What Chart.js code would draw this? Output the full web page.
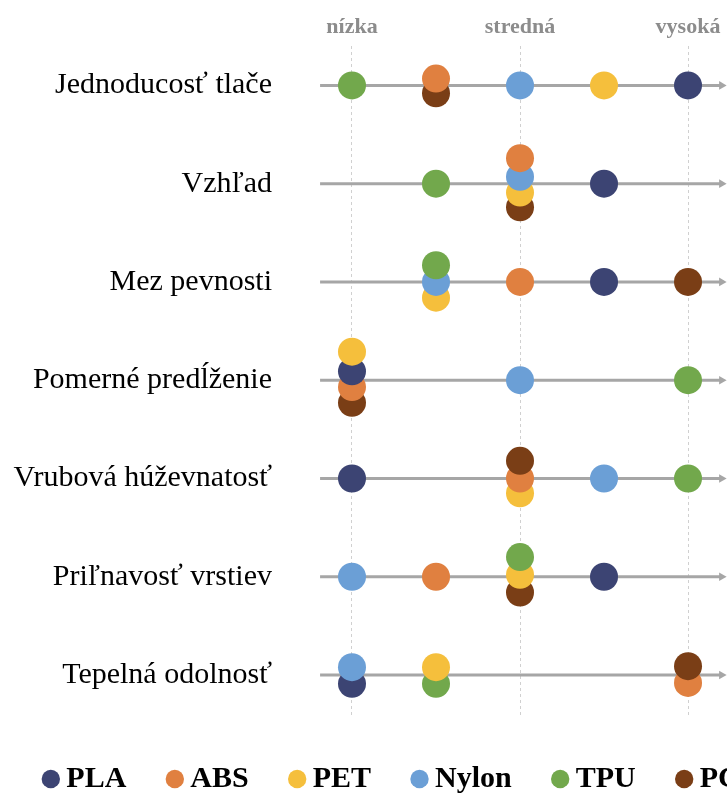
<!DOCTYPE html>
<html>
<head>
<meta charset="utf-8">
<script src="https://cdn.jsdelivr.net/npm/chart.js@4/dist/chart.umd.min.js"></script>
<style>
  html, body { margin: 0; padding: 0; background: #fff; overflow: hidden; }
  canvas { display: block; }
</style>
</head>
<body>
<canvas id="materialChart" width="790" height="793"></canvas>
<script>
// Properties (rows, top to bottom)
const categories = ['Jednoducosť tlače', 'Vzhľad', 'Mez pevnosti', 'Pomerné predĺženie',
                    'Vrubová húževnatosť', 'Priľnavosť vrstiev', 'Tepelná odolnosť'];
// level scale: 1 = nízka, 3 = stredná, 5 = vysoká
const levelLabels = ['nízka', '', 'stredná', '', 'vysoká'];

const materials = ['PLA', 'ABS', 'PET', 'Nylon', 'TPU', 'PC'];
const materialColors = ['#3c4473', '#e08040', '#f5bf3c', '#6b9fd6', '#72a84c', '#7a3e16'];

// level of each material per property
const plaLevels   = [5, 4, 4, 1, 1, 4, 1];
const absLevels   = [2, 3, 3, 1, 3, 2, 5];
const petLevels   = [4, 3, 2, 1, 3, 3, 2];
const nylonLevels = [3, 3, 2, 3, 4, 1, 1];
const tpuLevels   = [1, 2, 2, 5, 5, 3, 2];
const pcLevels    = [2, 3, 5, 1, 3, 3, 5];

// small vertical shift (in rows) where dots share a spot
const plaShift   = [0, 0, 0, -0.09, 0, 0, 0.09];
const absShift   = [-0.07, -0.26, 0, 0.07, 0, 0, 0.08];
const petShift   = [0, 0.09, 0.16, -0.29, 0.15, -0.02, -0.08];
const nylonShift = [0, -0.07, 0, 0, 0, 0, -0.08];
const tpuShift   = [0, 0, -0.17, 0, 0, -0.2, 0.09];
const pcShift    = [0.08, 0.24, 0, 0.23, -0.18, 0.16, -0.09];

const allLevels = [plaLevels, absLevels, petLevels, nylonLevels, tpuLevels, pcLevels];
const allShifts = [plaShift, absShift, petShift, nylonShift, tpuShift, pcShift];

// Build one list of dots, lower dots first so the upper one sits on top
let dots = [];
categories.forEach((cat, i) => {
    materials.forEach((m, k) => {
        dots.push({ x: allLevels[k][i], y: i + allShifts[k][i], color: materialColors[k] });
    });
});
dots.sort((a, b) => b.y - a.y);

const serif = '"Liberation Serif", "Times New Roman", serif';

// Arrow lines, one per row
const lineSets = categories.map((cat, i) => ({
    type: 'line',
    order: 2,
    data: [{ x: 0.62, y: i }, { x: 5.4, y: i }],
    borderColor: '#a6a6a6',
    borderWidth: 3,
    pointRadius: [0, 5],
    pointStyle: 'triangle',
    rotation: 90,
    pointBackgroundColor: '#a6a6a6',
    pointBorderWidth: 0,
    clip: false
}));

const ctx = document.getElementById('materialChart').getContext('2d');
new Chart(ctx, {
    type: 'scatter',
    data: {
        datasets: [{
            label: 'dots',
            order: 0,
            data: dots,
            pointRadius: 14,
            pointHoverRadius: 14,
            pointBorderWidth: 0,
            pointBackgroundColor: dots.map(d => d.color),
            clip: false
        }].concat(lineSets)
    },
    options: {
        responsive: false,
        animation: false,
        layout: { autoPadding: false, padding: { top: 8, bottom: -11 } },
        scales: {
            x: {
                type: 'linear',
                position: 'top',
                min: 0.262,
                max: 6.214,
                afterBuildTicks: axis => { axis.ticks = [1, 3, 5].map(v => ({ value: v })); },
                ticks: {
                    callback: v => levelLabels[v - 1],
                    color: '#8c8c8c',
                    font: { family: serif, size: 22, weight: 'bold' },
                    padding: 6,
                    maxRotation: 0
                },
                grid: {
                    color: '#d0d0d0',
                    lineWidth: 1,
                    drawTicks: false
                },
                border: { display: false, dash: [3, 3] }
            },
            y: {
                type: 'linear',
                reverse: true,
                min: -0.397,
                max: 6.417,
                afterBuildTicks: axis => { axis.ticks = categories.map((c, i) => ({ value: i })); },
                afterFit: axis => { axis.width = 290; },
                ticks: {
                    callback: v => categories[v],
                    color: '#000',
                    font: { family: serif, size: 30 },
                    padding: 10
                },
                grid: { display: false },
                border: { display: false }
            }
        },
        plugins: {
            tooltip: { enabled: false },
            legend: {
                position: 'bottom',
                onClick: null,
                labels: {
                    usePointStyle: true,
                    boxHeight: 13,
                    boxWidth: 1,
                    padding: 48,
                    color: '#000',
                    font: { family: serif, size: 30, weight: 'bold' },
                    generateLabels: () => materials.map((m, k) => ({
                        text: m,
                        fillStyle: materialColors[k],
                        strokeStyle: materialColors[k],
                        lineWidth: 0,
                        pointStyle: 'circle',
                        hidden: false,
                        datasetIndex: 0
                    }))
                }
            }
        }
    }
});
</script>
</body>
</html>
